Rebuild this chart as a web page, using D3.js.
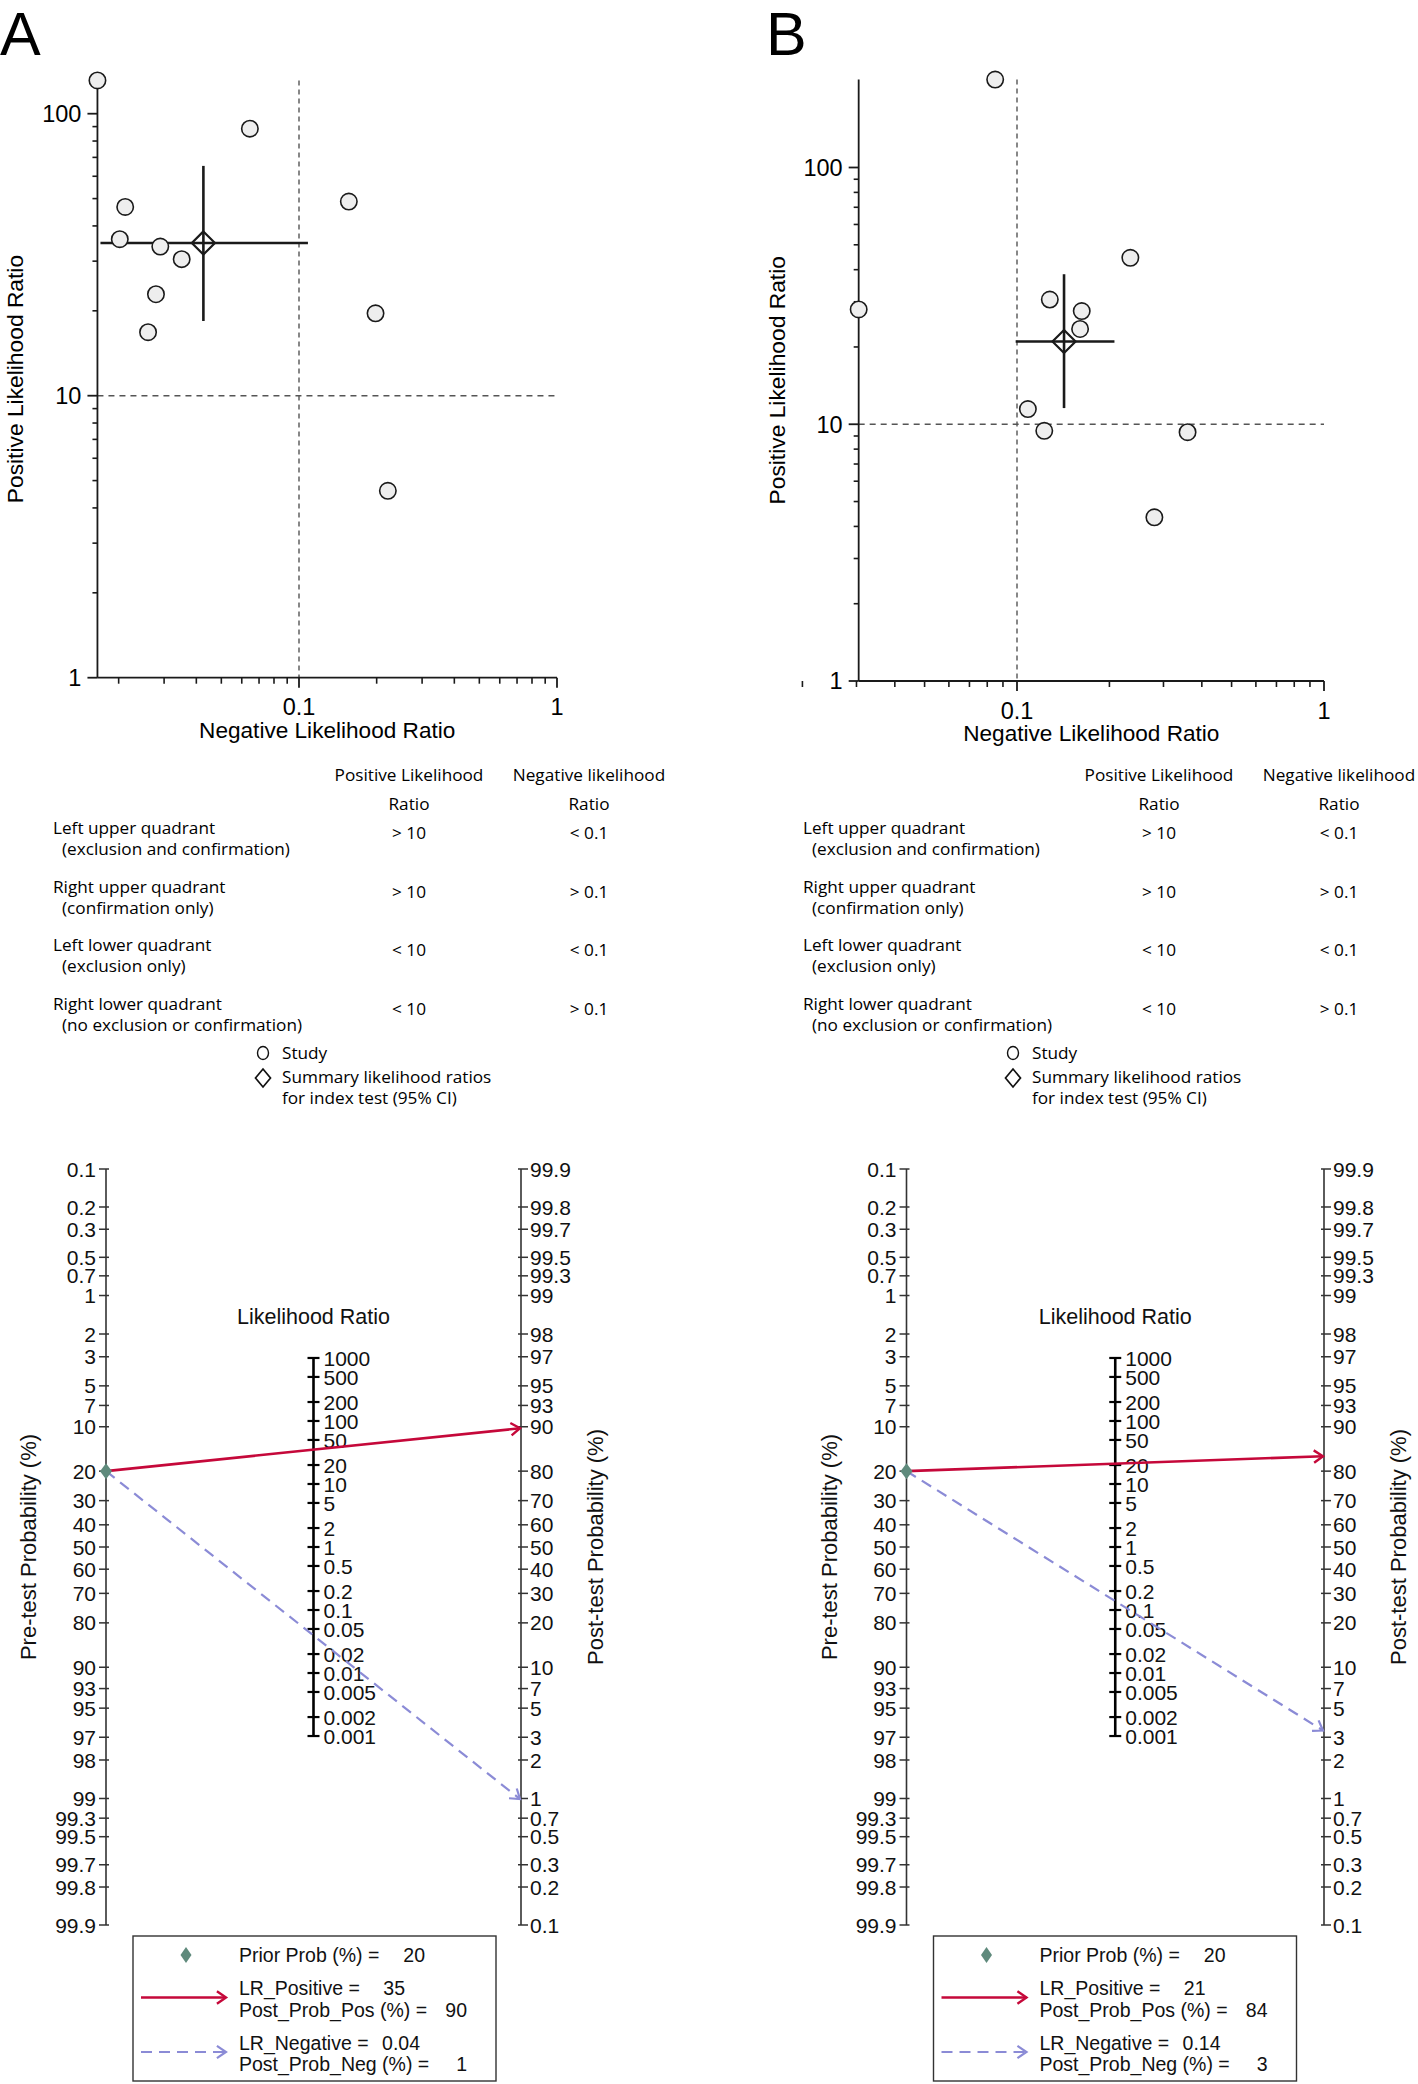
<!DOCTYPE html>
<html><head><meta charset="utf-8">
<script src="https://cdn.jsdelivr.net/npm/d3@7"></script>
<style>body{margin:0;background:#fff}svg{display:block}</style>
</head><body>
<svg id="c" width="1418" height="2084"></svg>
<script>
// ---------------- data ----------------
const panelLetters = ["A", "B"];
// panel A studies: negative LR, positive LR
const nlrA = [0.01655, 0.0212, 0.0202, 0.0290, 0.0351, 0.0279, 0.0260, 0.0645, 0.156, 0.198, 0.221];
const plrA = [131.2, 46.7, 35.9, 33.8, 30.5, 22.9, 16.8, 88.5, 48.8, 19.6, 4.6];
// panel B studies
const nlrB = [0.0849, 0.0305, 0.234, 0.1279, 0.1625, 0.1605, 0.1085, 0.1227, 0.3594, 0.2802];
const plrB = [220, 28.0, 44.5, 30.6, 27.6, 23.5, 11.46, 9.43, 9.31, 4.34];
// summary [estimate, lower, upper]
const sumNlrA = [0.0426, 0.0170, 0.1083];
const sumPlrA = [34.8, 18.4, 65.3];
const sumNlrB = [0.1423, 0.099, 0.2077];
const sumPlrB = [21.0, 11.56, 38.4];
// reference thresholds
const nlrThreshold = 0.1, plrThreshold = 10;
// axis ticks
const xMajorTicks = [0.1, 1];
const xMinorTicks = [0.02,0.03,0.04,0.05,0.06,0.07,0.08,0.09,0.2,0.3,0.4,0.5,0.6,0.7,0.8,0.9];
const yMajorTicks = [1, 10, 100];
const yMinorTicks = [2,3,4,5,6,7,8,9,20,30,40,50,60,70,80,90];
// quadrant table
const tableHeader1 = ["Positive Likelihood", "Ratio"];
const tableHeader2 = ["Negative likelihood", "Ratio"];
const quadrantNames = ["Left upper quadrant", "Right upper quadrant", "Left lower quadrant", "Right lower quadrant"];
const quadrantNotes = ["(exclusion and confirmation)", "(confirmation only)", "(exclusion only)", "(no exclusion or confirmation)"];
const plrCriteria = ["> 10", "> 10", "< 10", "< 10"];
const nlrCriteria = ["< 0.1", "> 0.1", "< 0.1", "> 0.1"];
const symbolLegend = ["Study", "Summary likelihood ratios", "for index test (95% CI)"];
// Fagan nomogram
const preTicks = [0.1,0.2,0.3,0.5,0.7,1,2,3,5,7,10,20,30,40,50,60,70,80,90,93,95,97,98,99,99.3,99.5,99.7,99.8,99.9];
const postTicks = [99.9,99.8,99.7,99.5,99.3,99,98,97,95,93,90,80,70,60,50,40,30,20,10,7,5,3,2,1,0.7,0.5,0.3,0.2,0.1];
const lrTicks = [1000,500,200,100,50,20,10,5,2,1,0.5,0.2,0.1,0.05,0.02,0.01,0.005,0.002,0.001];
const priorProb = [20, 20];
const lrPositive = [35, 21];
const lrNegative = [0.04, 0.14];
const postProbPos = [90, 84];
const postProbNeg = [1, 3];

// ---------------- layout ----------------
const FONT = "'Liberation Sans', Arial, Helvetica, sans-serif";
const TFONT = "'Open Sans', 'Noto Sans', sans-serif";
const INK = "#1a1a1a";
const RED = "#c5083a", BLUE = "#8b8bd6", GREEN = "#5f8a7c";
const scatterLayout = [
  {x01: 299, x1: 557, y1: 677.7, y100: 113.7, letterX: 0},
  {x01: 1017, x1: 1324, y1: 681, y100: 167.5, letterX: 766}
];
const tableOffset = [0, 750];
const nomoLayout = [{xL: 106, xR: 521}, {xL: 906.5, xR: 1324}];
const nomoTop = 1169, nomoBot = 1925;
const NFS = 21; // nomogram label size

const svg = d3.select("#c");
svg.append("rect").attr("width", 1418).attr("height", 2084).attr("fill", "#fff");

function scatter(idx, nlr, plr, sNlr, sPlr) {
  const L = scatterLayout[idx];
  const g = svg.append("g");
  const x = d3.scaleLog().domain([0.1, 1]).range([L.x01, L.x1]);
  const y = d3.scaleLog().domain([1, 100]).range([L.y1, L.y100]);
  const xMin = d3.min(nlr), yMax = d3.max(plr);
  const ax = x(xMin), ay = y(1);

  g.append("text").attr("x", L.letterX).attr("y", 55).attr("font-family", FONT)
    .attr("font-size", 61).attr("fill", "#000").text(panelLetters[idx]);

  // reference lines
  g.append("line").attr("x1", x(nlrThreshold)).attr("x2", x(nlrThreshold))
    .attr("y1", y(yMax)).attr("y2", ay).attr("stroke", "#555").attr("stroke-width", 1.4)
    .attr("stroke-dasharray", "5,4");
  g.append("line").attr("x1", ax).attr("x2", x(1)).attr("y1", y(plrThreshold)).attr("y2", y(plrThreshold))
    .attr("stroke", "#555").attr("stroke-width", 1.4).attr("stroke-dasharray", "6,5");

  // axes
  g.append("line").attr("x1", ax).attr("x2", ax).attr("y1", y(yMax)).attr("y2", ay)
    .attr("stroke", INK).attr("stroke-width", 1.8);
  g.append("line").attr("x1", ax).attr("x2", x(1)).attr("y1", ay).attr("y2", ay)
    .attr("stroke", INK).attr("stroke-width", 1.8);

  g.selectAll(null).data(xMajorTicks).enter().append("line")
    .attr("x1", d => x(d)).attr("x2", d => x(d)).attr("y1", ay).attr("y2", ay + 10)
    .attr("stroke", INK).attr("stroke-width", 1.8);
  g.selectAll(null).data(xMinorTicks).enter().append("line")
    .attr("x1", d => x(d)).attr("x2", d => x(d)).attr("y1", ay).attr("y2", ay + 6)
    .attr("stroke", INK).attr("stroke-width", 1.6);
  g.selectAll(null).data(yMajorTicks).enter().append("line")
    .attr("x1", ax - 10).attr("x2", ax).attr("y1", d => y(d)).attr("y2", d => y(d))
    .attr("stroke", INK).attr("stroke-width", 1.8);
  g.selectAll(null).data(yMinorTicks).enter().append("line")
    .attr("x1", ax - 5).attr("x2", ax).attr("y1", d => y(d)).attr("y2", d => y(d))
    .attr("stroke", INK).attr("stroke-width", 1.6);

  g.selectAll(null).data(xMajorTicks).enter().append("text")
    .attr("x", d => x(d)).attr("y", ay + 37.5).attr("text-anchor", "middle")
    .attr("font-family", FONT).attr("font-size", 23.5).attr("fill", "#000").text(d => String(d));
  g.selectAll(null).data(yMajorTicks).enter().append("text")
    .attr("x", ax - 16).attr("y", d => y(d)).attr("dy", "0.36em").attr("text-anchor", "end")
    .attr("font-family", FONT).attr("font-size", 23.5).attr("fill", "#000").text(d => String(d));

  g.append("text").attr("x", (ax + x(1)) / 2).attr("y", ay + 60).attr("text-anchor", "middle")
    .attr("font-family", FONT).attr("font-size", 22.6).attr("fill", "#000").text("Negative Likelihood Ratio");
  g.append("text").attr("transform", `translate(${ax - 74},${(y(yMax) + ay) / 2}) rotate(-90)`)
    .attr("text-anchor", "middle").attr("font-family", FONT).attr("font-size", 22.8).attr("fill", "#000")
    .text("Positive Likelihood Ratio");

  // summary CI
  g.append("line").attr("x1", x(sNlr[1])).attr("x2", x(sNlr[2])).attr("y1", y(sPlr[0])).attr("y2", y(sPlr[0]))
    .attr("stroke", INK).attr("stroke-width", 2.6);
  g.append("line").attr("x1", x(sNlr[0])).attr("x2", x(sNlr[0])).attr("y1", y(sPlr[1])).attr("y2", y(sPlr[2]))
    .attr("stroke", INK).attr("stroke-width", 2.6);
  g.append("path").attr("d", d3.symbol(d3.symbolDiamond2, 340)())
    .attr("transform", `translate(${x(sNlr[0])},${y(sPlr[0])})`)
    .attr("fill", "none").attr("stroke", INK).attr("stroke-width", 2.2);

  // studies
  g.selectAll(null).data(nlr.map((v, i) => [v, plr[i]])).enter().append("circle")
    .attr("cx", d => x(d[0])).attr("cy", d => y(d[1])).attr("r", 8.2)
    .attr("fill", "#eeeeee").attr("stroke", INK).attr("stroke-width", 1.6);
}

function quadTable(idx) {
  const ox = tableOffset[idx];
  const g = svg.append("g").attr("font-family", TFONT).attr("font-size", 17.2).attr("fill", "#000");
  const c1 = 409 + ox, c2 = 589 + ox;
  [tableHeader1, tableHeader2].forEach((h, k) => {
    h.forEach((t, j) => g.append("text").attr("x", k ? c2 : c1).attr("y", 781 + 29 * j)
      .attr("text-anchor", "middle").text(t));
  });
  quadrantNames.forEach((nm, i) => {
    const by = 834 + 58.5 * i;
    g.append("text").attr("x", 53 + ox).attr("y", by).text(nm);
    g.append("text").attr("x", 62 + ox).attr("y", by + 21).text(quadrantNotes[i]);
    g.append("text").attr("x", c1).attr("y", by + 5).attr("text-anchor", "middle").text(plrCriteria[i]);
    g.append("text").attr("x", c2).attr("y", by + 5).attr("text-anchor", "middle").text(nlrCriteria[i]);
  });
  g.append("ellipse").attr("cx", 263 + ox).attr("cy", 1053).attr("rx", 5.5).attr("ry", 6.5)
    .attr("fill", "none").attr("stroke", "#111").attr("stroke-width", 1.4);
  g.append("path").attr("d", "M0,-9L7.5,0L0,9L-7.5,0Z").attr("transform", `translate(${263 + ox},1078)`)
    .attr("fill", "none").attr("stroke", "#111").attr("stroke-width", 1.7);
  g.append("text").attr("x", 282 + ox).attr("y", 1059).text(symbolLegend[0]);
  g.append("text").attr("x", 282 + ox).attr("y", 1083).text(symbolLegend[1]);
  g.append("text").attr("x", 282 + ox).attr("y", 1104).text(symbolLegend[2]);
}

const logit = p => Math.log(p / (1 - p));
function fmt(v) { return String(v); }

function arrowHead(g, x1, y1, x2, y2, color, w) {
  const a = Math.atan2(y2 - y1, x2 - x1), len = 11, sp = 0.6;
  const p1 = [x2 - len * Math.cos(a - sp), y2 - len * Math.sin(a - sp)];
  const p2 = [x2 - len * Math.cos(a + sp), y2 - len * Math.sin(a + sp)];
  g.append("path").attr("d", `M${p1[0]},${p1[1]}L${x2},${y2}L${p2[0]},${p2[1]}`)
    .attr("fill", "none").attr("stroke", color).attr("stroke-width", w).attr("stroke-linejoin", "miter");
}

function tickLabels(g, data, xFn, yFn, anchor) {
  g.selectAll(null).data(data).enter().append("text")
    .attr("x", xFn).attr("y", yFn)
    .attr("dy", "0.36em").attr("text-anchor", anchor)
    .attr("font-family", FONT).attr("font-size", NFS).attr("fill", "#111").text(fmt);
}

function nomogram(idx) {
  const L = nomoLayout[idx];
  const xL = L.xL, xR = L.xR, xM = (xL + xR) / 2;
  const g = svg.append("g");
  const lo = logit(0.001), hi = logit(0.999);
  const yPre = d3.scaleLinear().domain([lo, hi]).range([nomoTop, nomoBot]);
  const yPost = d3.scaleLinear().domain([hi, lo]).range([nomoTop, nomoBot]);
  const quarter = (nomoBot - nomoTop) / 4, center = (nomoBot + nomoTop) / 2;
  // ln(LR) -> y : half the slope of the logit scales
  const yLR = d3.scaleLinear().domain([hi, lo]).range([center - quarter, center + quarter]);
  const yMid = v => yLR(Math.log(v));
  const pre = p => yPre(logit(p / 100)), post = p => yPost(logit(p / 100));

  // left and right axes
  [xL, xR].forEach(xx => g.append("line").attr("x1", xx).attr("x2", xx).attr("y1", nomoTop).attr("y2", nomoBot)
    .attr("stroke", "#333").attr("stroke-width", 1.6));
  g.selectAll(null).data(preTicks).enter().append("line")
    .attr("x1", xL - 7).attr("x2", xL + 3).attr("y1", d => pre(d)).attr("y2", d => pre(d))
    .attr("stroke", "#333").attr("stroke-width", 1.5);
  g.selectAll(null).data(postTicks).enter().append("line")
    .attr("x1", xR - 3).attr("x2", xR + 7).attr("y1", d => post(d)).attr("y2", d => post(d))
    .attr("stroke", "#333").attr("stroke-width", 1.5);
  tickLabels(g, preTicks, () => xL - 10, d => pre(d), "end");
  tickLabels(g, postTicks, () => xR + 9, d => post(d), "start");

  // middle LR axis
  g.append("line").attr("x1", xM).attr("x2", xM).attr("y1", yMid(d3.max(lrTicks))).attr("y2", yMid(d3.min(lrTicks)))
    .attr("stroke", "#000").attr("stroke-width", 2.6);
  g.selectAll(null).data(lrTicks).enter().append("line")
    .attr("x1", xM - 6).attr("x2", xM + 6).attr("y1", d => yMid(d)).attr("y2", d => yMid(d))
    .attr("stroke", "#000").attr("stroke-width", 2.2);
  tickLabels(g, lrTicks, () => xM + 10, d => yMid(d), "start");
  g.append("text").attr("x", xM).attr("y", 1324).attr("text-anchor", "middle")
    .attr("font-family", FONT).attr("font-size", 21.5).attr("fill", "#111").text("Likelihood Ratio");

  g.append("text").attr("transform", `translate(${xL - 70},${(nomoTop + nomoBot) / 2}) rotate(-90)`)
    .attr("text-anchor", "middle").attr("font-family", FONT).attr("font-size", 22).attr("fill", "#111")
    .text("Pre-test Probability (%)");
  g.append("text").attr("transform", `translate(${xR + 82},${(nomoTop + nomoBot) / 2}) rotate(-90)`)
    .attr("text-anchor", "middle").attr("font-family", FONT).attr("font-size", 22).attr("fill", "#111")
    .text("Post-test Probability (%)");

  // lines
  const p0 = priorProb[idx] / 100;
  const odds = p0 / (1 - p0);
  const pp = odds * lrPositive[idx] / (1 + odds * lrPositive[idx]);
  const pn = odds * lrNegative[idx] / (1 + odds * lrNegative[idx]);
  const y0 = pre(priorProb[idx]);
  const yP = yPost(logit(pp)), yN = yPost(logit(pn));
  g.append("line").attr("x1", xL).attr("y1", y0).attr("x2", xR - 1).attr("y2", yN)
    .attr("stroke", BLUE).attr("stroke-width", 2.2).attr("stroke-dasharray", "11,7");
  arrowHead(g, xL, y0, xR - 1, yN, BLUE, 2.2);
  g.append("line").attr("x1", xL).attr("y1", y0).attr("x2", xR - 1).attr("y2", yP)
    .attr("stroke", RED).attr("stroke-width", 2.6);
  arrowHead(g, xL, y0, xR - 1, yP, RED, 2.4);
  g.append("path").attr("d", "M0,-8L6,0L0,8L-6,0Z").attr("transform", `translate(${xL},${y0})`)
    .attr("fill", GREEN);

  // legend box
  const bx = xL + 27, bw = 363, by = 1936, bh = 145;
  const lg = g.append("g").attr("font-family", FONT).attr("font-size", 19.5).attr("fill", "#111");
  lg.append("rect").attr("x", bx).attr("y", by).attr("width", bw).attr("height", bh)
    .attr("fill", "#fff").attr("stroke", "#333").attr("stroke-width", 1.4);
  lg.append("path").attr("d", "M0,-8L5.5,0L0,8L-5.5,0Z").attr("transform", `translate(${xL + 80},1955)`).attr("fill", GREEN);
  lg.append("line").attr("x1", xL + 35).attr("x2", xL + 120).attr("y1", 1997.5).attr("y2", 1997.5)
    .attr("stroke", RED).attr("stroke-width", 2.6);
  arrowHead(lg, xL + 35, 1997.5, xL + 120, 1997.5, RED, 2.4);
  lg.append("line").attr("x1", xL + 35).attr("x2", xL + 120).attr("y1", 2052).attr("y2", 2052)
    .attr("stroke", BLUE).attr("stroke-width", 2.2).attr("stroke-dasharray", "11,7");
  arrowHead(lg, xL + 35, 2052, xL + 120, 2052, BLUE, 2.2);
  const tx = xL + 133;
  const rows = [
    ["Prior Prob (%) =", priorProb[idx], 1962, 319],
    ["LR_Positive =", lrPositive[idx], 1995, 299],
    ["Post_Prob_Pos (%) =", postProbPos[idx], 2017, 361],
    ["LR_Negative =", lrNegative[idx], 2050, 314],
    ["Post_Prob_Neg (%) =", postProbNeg[idx], 2071, 361]
  ];
  rows.forEach(r => {
    lg.append("text").attr("x", tx).attr("y", r[2]).text(r[0]);
    lg.append("text").attr("x", xL + r[3]).attr("y", r[2]).attr("text-anchor", "end").text(String(r[1]));
  });
}

scatter(0, nlrA, plrA, sumNlrA, sumPlrA);
scatter(1, nlrB, plrB, sumNlrB, sumPlrB);
quadTable(0); quadTable(1);
nomogram(0); nomogram(1);
</script>
</body></html>
